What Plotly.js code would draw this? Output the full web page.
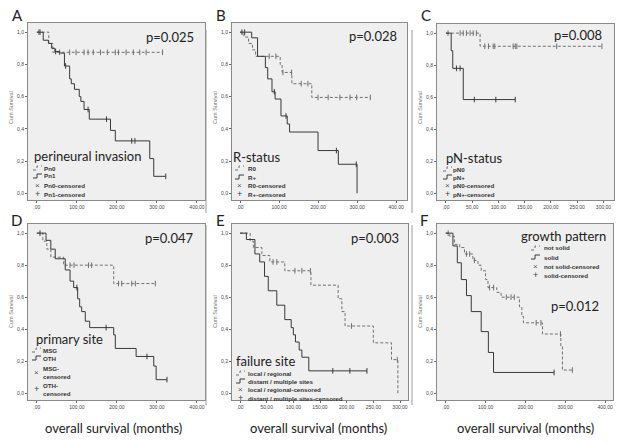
<!DOCTYPE html>
<html>
<head>
<meta charset="utf-8">
<script src="https://cdn.plot.ly/plotly-3.0.1.min.js"></script>
<style>html,body{margin:0;padding:0;background:#fff}#chart{width:624px;height:444px}</style>
</head>
<body>
<div id="chart"></div>
<script>
// A - perineural invasion
var pn0Time = [0, 30, 40, 314];
var pn0Surv = [1, 0.93, 0.875, 0.875];
var pn0Cens = [5, 57, 82, 98, 118, 128, 141, 159, 176, 196, 204, 223, 241, 257, 273, 314];
var pn1Time = [0, 16, 29, 37, 45, 57, 69, 82, 86, 94, 106, 110, 118, 131, 184, 196, 282, 292, 322];
var pn1Surv = [1, 0.95, 0.93, 0.90, 0.88, 0.87, 0.79, 0.71, 0.68, 0.645, 0.60, 0.57, 0.52, 0.46, 0.39, 0.325, 0.215, 0.105, 0.105];
var pn1Cens = [8, 47, 72, 128, 174, 237, 245, 322];

// B - R-status
var r0Time = [0, 10, 22, 32, 40, 103, 108, 133, 184, 334];
var r0Surv = [1, 0.97, 0.93, 0.89, 0.85, 0.80, 0.75, 0.68, 0.595, 0.595];
var r0Cens = [75, 92, 110, 132, 157, 174, 200, 226, 256, 282, 299, 334];
var rpTime = [0, 30, 45, 65, 71, 82, 90, 105, 121, 127, 200, 252, 300];
var rpSurv = [1, 0.965, 0.85, 0.78, 0.71, 0.63, 0.585, 0.48, 0.43, 0.38, 0.265, 0.18, 0];
var rpCens = [5, 12, 88, 118, 247, 298];

// C - pN-status
var pnNegTime = [0, 65, 297];
var pnNegSurv = [1, 0.918, 0.918];
var pnNegCens = [4, 27, 33, 39, 46, 52, 58, 74, 81, 90, 93, 128, 132, 135, 211, 297];
var pnPosTime = [0, 10, 13, 33, 132];
var pnPosSurv = [1, 0.89, 0.78, 0.585, 0.585];
var pnPosCens = [20, 27, 54, 95, 132];

// D - primary site
var msgTime = [0, 15, 25, 35, 67, 192, 296];
var msgSurv = [1, 0.95, 0.90, 0.85, 0.80, 0.685, 0.685];
var msgCens = [83, 93, 129, 137, 204, 212, 237, 246, 296];
var othTime = [0, 23, 35, 46, 71, 83, 92, 102, 107, 112, 121, 132, 192, 196, 248, 292, 298, 325];
var othSurv = [1, 0.955, 0.90, 0.84, 0.77, 0.70, 0.66, 0.59, 0.54, 0.51, 0.45, 0.41, 0.365, 0.28, 0.23, 0.17, 0.085, 0.085];
var othCens = [8, 100, 173, 275, 325];

// E - failure site
var locTime = [0, 19, 25, 41, 56, 84, 133, 184, 191, 197, 250, 284, 296];
var locSurv = [1, 0.95, 0.91, 0.86, 0.82, 0.765, 0.675, 0.59, 0.51, 0.42, 0.315, 0.21, 0];
var locCens = [62, 69, 103, 116, 132, 209, 295];
var disTime = [0, 12, 28, 37, 46, 53, 69, 84, 96, 100, 104, 111, 116, 129, 238];
var disSurv = [1, 0.96, 0.87, 0.82, 0.73, 0.64, 0.55, 0.46, 0.41, 0.365, 0.32, 0.27, 0.225, 0.14, 0.14];
var disCens = [174, 206, 238];

// F - growth pattern
var nsTime = [0, 10, 22, 35, 47, 68, 81, 89, 100, 106, 128, 139, 185, 191, 195, 243, 289, 293, 318];
var nsSurv = [1, 0.98, 0.93, 0.91, 0.87, 0.83, 0.80, 0.765, 0.71, 0.66, 0.63, 0.60, 0.54, 0.48, 0.44, 0.37, 0.295, 0.145, 0.145];
var nsCens = [6, 52, 60, 72, 110, 120, 152, 164, 172, 227, 239, 288, 318];
var soTime = [0, 18, 29, 39, 52, 64, 89, 107, 120, 272];
var soSurv = [1, 0.92, 0.815, 0.71, 0.61, 0.51, 0.385, 0.255, 0.13, 0.13];
var soCens = [272];

var xTicks400 = [0, 100, 200, 300, 400];
var xTicks300 = [0, 50, 100, 150, 200, 250, 300];
var yTicks = [0, 0.2, 0.4, 0.6, 0.8, 1.0];

function survAt(times, surv, t) {
    var s = surv[0];
    for (var i = 0; i < times.length; i++) {
        if (times[i] <= t) s = surv[i];
    }
    return s;
}

function fmtX(v) { return v === 0 ? ',00' : v + ',00'; }
function fmtY(v) { return v.toFixed(1).replace('.', ','); }

var solidCol = '#383838';
var dashCol = '#707070';

var panels = [
    {letter: 'A', p: 'p=0.025', legTitle: 'perineural invasion', names: ['Pn0', 'Pn1', 'Pn0-censored', 'Pn1-censored'],
     a: [pn0Time, pn0Surv, pn0Cens], b: [pn1Time, pn1Surv, pn1Cens], ticks: xTicks400, range: [-22, 420],
     box: [28, 205, 23, 200]},
    {letter: 'B', p: 'p=0.028', legTitle: 'R-status', names: ['R0', 'R+', 'R0-censored', 'R+-censored'],
     a: [r0Time, r0Surv, r0Cens], b: [rpTime, rpSurv, rpCens], ticks: xTicks400, range: [-20.5, 428],
     box: [232, 407, 23, 200]},
    {letter: 'C', p: 'p=0.008', legTitle: 'pN-status', names: ['pN0', 'pN+', 'pN0-censored', 'pN+-censored'],
     a: [pnNegTime, pnNegSurv, pnNegCens], b: [pnPosTime, pnPosSurv, pnPosCens], ticks: xTicks300, range: [-17, 320],
     box: [437, 614, 24, 200]},
    {letter: 'D', p: 'p=0.047', legTitle: 'primary site', names: ['MSG', 'OTH', 'MSG-<br>censored', 'OTH-<br>censored'],
     a: [msgTime, msgSurv, msgCens], b: [othTime, othSurv, othCens], ticks: xTicks400, range: [-22, 420],
     box: [28, 205, 224, 400]},
    {letter: 'E', p: 'p=0.003', legTitle: 'failure site', names: ['local / regional', 'distant / multiple sites', 'local / regional-censored', 'distant / multiple sites-censored'],
     a: [locTime, locSurv, locCens], b: [disTime, disSurv, disCens], ticks: xTicks300, range: [-15, 315],
     box: [232, 408, 224, 400]},
    {letter: 'F', p: 'p=0.012', legTitle: 'growth pattern', names: ['not solid', 'solid', 'not solid-censored', 'solid-censored'],
     a: [nsTime, nsSurv, nsCens], b: [soTime, soSurv, soCens], ticks: xTicks400, range: [-22, 420],
     box: [437, 613, 224, 400]}
];

// where the texts of each panel sit (pixels)
var textPos = [
    {letter: [17, 15], p: [170, 37], leg: [33, 156, 168, 176, 186, 194, 33, 43], ytitle: [11, 108]},
    {letter: [221, 15], p: [373, 36], leg: [232, 157, 168, 177, 186, 194, 235, 247], ytitle: [215, 108]},
    {letter: [426, 15], p: [578, 35], leg: [445, 158, 169, 177, 186, 194, 443, 452], ytitle: [420, 108]},
    {letter: [16, 220], p: [170, 238], leg: [35, 339, 350, 358, 372, 389, 32, 42], ytitle: [11, 312]},
    {letter: [220, 220], p: [375, 238], leg: [235, 361, 373, 381, 389.5, 398, 236, 247], ytitle: [215, 312]},
    {letter: [424, 220], p: [575, 306], leg: [520, 236, 248, 257, 266, 275, 531, 543], ytitle: [420, 312]}
];

function px(x) { return x / 624; }
function py(y) { return 1 - y / 444; }

var traces = [];
var layout = {
    width: 624, height: 444,
    margin: {l: 0, r: 0, t: 0, b: 0},
    paper_bgcolor: '#ffffff',
    plot_bgcolor: '#efefef',
    showlegend: false,
    font: {family: 'Liberation Sans, Arial, sans-serif', color: '#333'},
    annotations: [],
    shapes: []
};

function note(x, y, text, font, extra) {
    var a = {xref: 'paper', yref: 'paper', x: px(x), y: py(y), text: text, showarrow: false,
             font: font, xanchor: 'center', yanchor: 'middle', borderpad: 0};
    for (var k in extra) a[k] = extra[k];
    layout.annotations.push(a);
}

panels.forEach(function (pn, i) {
    var sfx = i === 0 ? '' : String(i + 1);
    var xa = 'x' + sfx, ya = 'y' + sfx;
    [[pn.a, dashCol, '3px,2px'], [pn.b, solidCol, 'solid']].forEach(function (g) {
        var d = g[0];
        traces.push({x: d[0], y: d[1], xaxis: xa, yaxis: ya, type: 'scatter', mode: 'lines',
            line: {shape: 'hv', color: g[1], width: 1, dash: g[2]}, hoverinfo: 'skip'});
        traces.push({x: d[2], y: d[2].map(function (t) { return survAt(d[0], d[1], t); }),
            xaxis: xa, yaxis: ya, type: 'scatter', mode: 'markers',
            marker: {symbol: 'line-ns-open', size: 4, color: g[1], line: {color: g[1], width: 1}}, hoverinfo: 'skip'});
    });
    var b = pn.box;
    layout['xaxis' + sfx] = {
        domain: [px(b[0]), px(b[1])], range: pn.range, anchor: ya,
        tickvals: pn.ticks, ticktext: pn.ticks.map(fmtX), tickfont: {size: 5, color: '#444'},
        ticks: 'outside', ticklen: 2, tickcolor: '#666', showgrid: false, zeroline: false,
        showline: true, mirror: true, linecolor: '#8a8a8a', linewidth: 1
    };
    layout['yaxis' + sfx] = {
        domain: [py(b[3]), py(b[2])], range: [-0.042, 1.057], anchor: xa,
        tickvals: yTicks, ticktext: yTicks.map(fmtY), tickfont: {size: 5, color: '#444'},
        ticks: 'outside', ticklen: 2, tickcolor: '#666', showgrid: false, zeroline: false,
        showline: true, mirror: true, linecolor: '#8a8a8a', linewidth: 1
    };

    var tp = textPos[i];
    note(tp.letter[0], tp.letter[1], pn.letter, {family: 'Lato', size: 15, color: '#222'});
    note(tp.p[0], tp.p[1], pn.p, {family: 'Lato', size: 13, color: '#222'});
    note(tp.ytitle[0], tp.ytitle[1], 'Cum Survival', {size: 5.5, color: '#777'}, {textangle: -90});
    var lg = tp.leg;
    note(lg[0], lg[1], pn.legTitle, {family: 'Lato', size: 13, color: '#222'}, {xanchor: 'left'});
    for (var k = 0; k < 4; k++) {
        note(lg[7], lg[2 + k], '<b>' + pn.names[k] + '</b>', {size: 6.2, color: '#333'},
             {xanchor: 'left', align: 'left'});
    }
    // legend keys
    var sx = lg[6];
    [[lg[2], dashCol, 'dot'], [lg[3], solidCol, 'solid']].forEach(function (e) {
        layout.shapes.push({type: 'path', xref: 'paper', yref: 'paper',
            path: 'M' + px(sx) + ',' + py(e[0] + 2) + ' L' + px(sx + 4) + ',' + py(e[0] + 2) +
                  ' L' + px(sx + 4) + ',' + py(e[0] - 2) + ' L' + px(sx + 9) + ',' + py(e[0] - 2),
            line: {color: e[1], width: 1, dash: e[2]}});
    });
    note(sx + 4.5, lg[4], '×', {size: 8, color: '#555'});
    note(sx + 4.5, lg[5], '+', {size: 9, color: '#444'});
});

[113, 318, 525].forEach(function (cx) {
    note(cx, 428, 'overall survival (months)', {family: 'Lato', size: 13, color: '#222'});
});

// thin borders of the pasted panel images
[206, 412].forEach(function (x) {
    [[30, 213], [225, 405]].forEach(function (r) {
        layout.shapes.push({type: 'line', xref: 'paper', yref: 'paper', x0: px(x), x1: px(x),
            y0: py(r[0]), y1: py(r[1]), line: {color: '#9a9a9a', width: 1}});
    });
});

Plotly.newPlot('chart', traces, layout, {staticPlot: true});
</script>
</body>
</html>
